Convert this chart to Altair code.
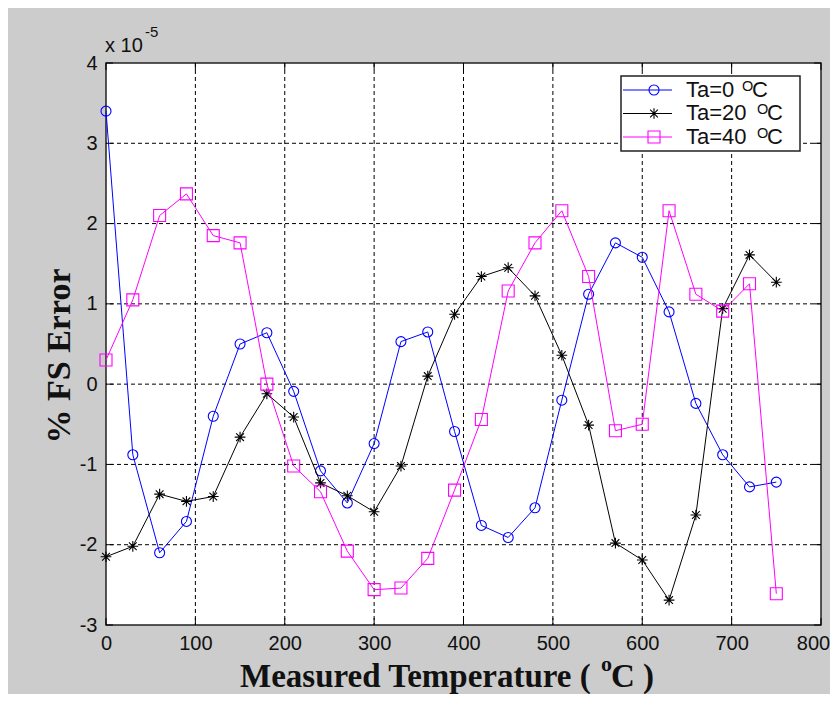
import altair as alt
import pandas as pd

# ---- data (error in units of 1e-5 % FS) ----
temps = [0, 30, 60, 90, 120, 150, 180, 210, 240, 270, 300, 330, 360,
         390, 420, 450, 480, 510, 540, 570, 600, 630, 660, 690, 720, 750]
ta0 = [3.40, -0.88, -2.10, -1.71, -0.40, 0.50, 0.64, -0.09, -1.08, -1.48, -0.74, 0.53, 0.65,
       -0.59, -1.76, -1.91, -1.54, -0.20, 1.12, 1.76, 1.58, 0.90, -0.24, -0.88, -1.28, -1.22]
ta20 = [-2.15, -2.02, -1.37, -1.46, -1.40, -0.66, -0.12, -0.41, -1.23, -1.39, -1.59, -1.02, 0.10,
        0.87, 1.34, 1.45, 1.10, 0.36, -0.51, -1.98, -2.19, -2.69, -1.63, 0.94, 1.61, 1.27]
ta40 = [0.30, 1.05, 2.10, 2.37, 1.85, 1.76, 0.00, -1.02, -1.34, -2.08, -2.56, -2.54, -2.17,
        -1.32, -0.44, 1.16, 1.76, 2.16, 1.34, -0.58, -0.50, 2.16, 1.12, 0.91, 1.25, -2.61]
series_names = ["Ta=0", "Ta=20", "Ta=40"]
colors = ["#0000ff", "#000000", "#ff00ff"]
x_ticks = [0, 100, 200, 300, 400, 500, 600, 700, 800]
y_ticks = [-3, -2, -1, 0, 1, 2, 3, 4]

W, H = 715, 562
SANS = "Liberation Sans"
SERIF = "Liberation Serif"
ASTERISK = "M-1,0L1,0M0,-1L0,1M-0.72,-0.72L0.72,0.72M-0.72,0.72L0.72,-0.72"
shapes = ["circle", ASTERISK, "square"]
sizes = [100, 115, 144]

rows = []
for name, vals in zip(series_names, [ta0, ta20, ta40]):
    for t, v in zip(temps, vals):
        rows.append({"temp": t, "err": v, "series": name})
df = pd.DataFrame(rows)

fix_minus = "replace(datum.label, '\u2212', '-')"
x_enc = alt.X("temp:Q", scale=alt.Scale(domain=[0, 800], nice=False, zero=False),
              axis=alt.Axis(values=x_ticks, grid=False, ticks=False, tickSize=0, domain=False,
                            labelFont=SANS, labelFontSize=20, labelColor="#111",
                            labelPadding=8, labelFlush=False, labelOverlap=False,
                            labelOffset={"condition": {"test": "datum.value === 800", "value": -8},
                                         "value": 0},
                            labelExpr=fix_minus, title=None))
y_enc = alt.Y("err:Q", scale=alt.Scale(domain=[-3, 4], nice=False, zero=False),
              axis=alt.Axis(values=y_ticks, grid=False, ticks=False, tickSize=0, domain=False,
                            labelFont=SANS, labelFontSize=20, labelColor="#111",
                            labelPadding=9, labelFlush=False, labelOverlap=False,
                            labelExpr=fix_minus, title=None))

one = alt.Data(values=[{}])
layers = []

# dashed grid
layers.append(alt.Chart(pd.DataFrame({"temp": x_ticks[1:-1]})).mark_rule(
    color="black", strokeWidth=1, strokeDash=[4, 3]).encode(x=x_enc))
layers.append(alt.Chart(pd.DataFrame({"err": y_ticks[1:-1]})).mark_rule(
    color="black", strokeWidth=1, strokeDash=[4, 3]).encode(y=y_enc))

# inward ticks on all four sides
xt = pd.DataFrame({"temp": x_ticks})
yt = pd.DataFrame({"err": y_ticks})
layers.append(alt.Chart(xt).mark_rule(color="black").encode(x=x_enc, y=alt.value(H), y2=alt.value(H - 7)))
layers.append(alt.Chart(xt).mark_rule(color="black").encode(x=x_enc, y=alt.value(0), y2=alt.value(7)))
layers.append(alt.Chart(yt).mark_rule(color="black").encode(y=y_enc, x=alt.value(0), x2=alt.value(7)))
layers.append(alt.Chart(yt).mark_rule(color="black").encode(y=y_enc, x=alt.value(W), x2=alt.value(W - 7)))

# series lines and markers
for name, col, shp, sz in zip(series_names, colors, shapes, sizes):
    sub = alt.Chart(df).transform_filter(alt.datum.series == name)
    layers.append(sub.mark_line(color=col, strokeWidth=1).encode(x=x_enc, y=y_enc))
    layers.append(sub.mark_point(shape=shp, size=sz, filled=False, color=col,
                                 strokeWidth=1.1, opacity=1).encode(x=x_enc, y=y_enc))

# manual legend
layers.append(alt.Chart(one).mark_rect(fill="white", stroke="#222", strokeWidth=1.5).encode(
    x=alt.value(515), x2=alt.value(694), y=alt.value(13), y2=alt.value(88)))
row_y = [27, 50.5, 74]
text_base = [33.5, 57, 80.5]
sup_x = [636, 651, 651]
c_x = [646, 661, 661]
for i, (name, col, shp, sz) in enumerate(zip(series_names, colors, shapes, sizes)):
    layers.append(alt.Chart(one).mark_rule(color=col, strokeWidth=1).encode(
        x=alt.value(517), x2=alt.value(566), y=alt.value(row_y[i])))
    layers.append(alt.Chart(one).mark_point(shape=shp, size=sz, filled=False, color=col,
                                            strokeWidth=1.1, opacity=1).encode(
        x=alt.value(548), y=alt.value(row_y[i])))
    layers.append(alt.Chart(one).mark_text(text=name, align="left", baseline="alphabetic",
                                           font=SANS, fontSize=22, color="#111").encode(
        x=alt.value(580), y=alt.value(text_base[i])))
    layers.append(alt.Chart(one).mark_text(text="O", align="left", baseline="alphabetic",
                                           font=SANS, fontSize=14.5, color="#111").encode(
        x=alt.value(sup_x[i]), y=alt.value(text_base[i] - 6)))
    layers.append(alt.Chart(one).mark_text(text="C", align="left", baseline="alphabetic",
                                           font=SANS, fontSize=22, color="#111").encode(
        x=alt.value(c_x[i]), y=alt.value(text_base[i])))

# exponent label
layers.append(alt.Chart(one).mark_text(text="x 10", align="left", baseline="alphabetic",
                                       font=SANS, fontSize=20, color="#111").encode(
    x=alt.value(-1), y=alt.value(-11)))
layers.append(alt.Chart(one).mark_text(text="-5", align="left", baseline="alphabetic",
                                       font=SANS, fontSize=15, color="#111").encode(
    x=alt.value(39), y=alt.value(-26.5)))

# axis titles
layers.append(alt.Chart(one).mark_text(text="Measured Temperature (", align="left",
                                       baseline="alphabetic", font=SERIF, fontSize=33,
                                       fontWeight="bold", color="#111").encode(
    x=alt.value(134), y=alt.value(624)))
layers.append(alt.Chart(one).mark_text(text="o", align="left", baseline="alphabetic",
                                       font=SERIF, fontSize=22, fontWeight="bold",
                                       color="#111").encode(
    x=alt.value(495), y=alt.value(608)))
layers.append(alt.Chart(one).mark_text(text="C )", align="left", baseline="alphabetic",
                                       font=SERIF, fontSize=33, fontWeight="bold",
                                       color="#111").encode(
    x=alt.value(505), y=alt.value(624)))
layers.append(alt.Chart(one).mark_text(text="% FS Error", align="center", baseline="alphabetic",
                                       angle=270, font=SERIF, fontSize=34, fontWeight="bold",
                                       color="#111").encode(
    x=alt.value(-36), y=alt.value(293)))

chart = alt.layer(*layers).properties(
    width=W, height=H, background="#cccccc",
    padding={"left": 98, "top": 55, "right": 9, "bottom": 69},
    autosize=alt.AutoSizeParams(type="none"),
).configure_view(fill="white", stroke="#222", strokeWidth=1.5)

chart.save("out.html", embed_options={"renderer": "svg", "actions": False})
